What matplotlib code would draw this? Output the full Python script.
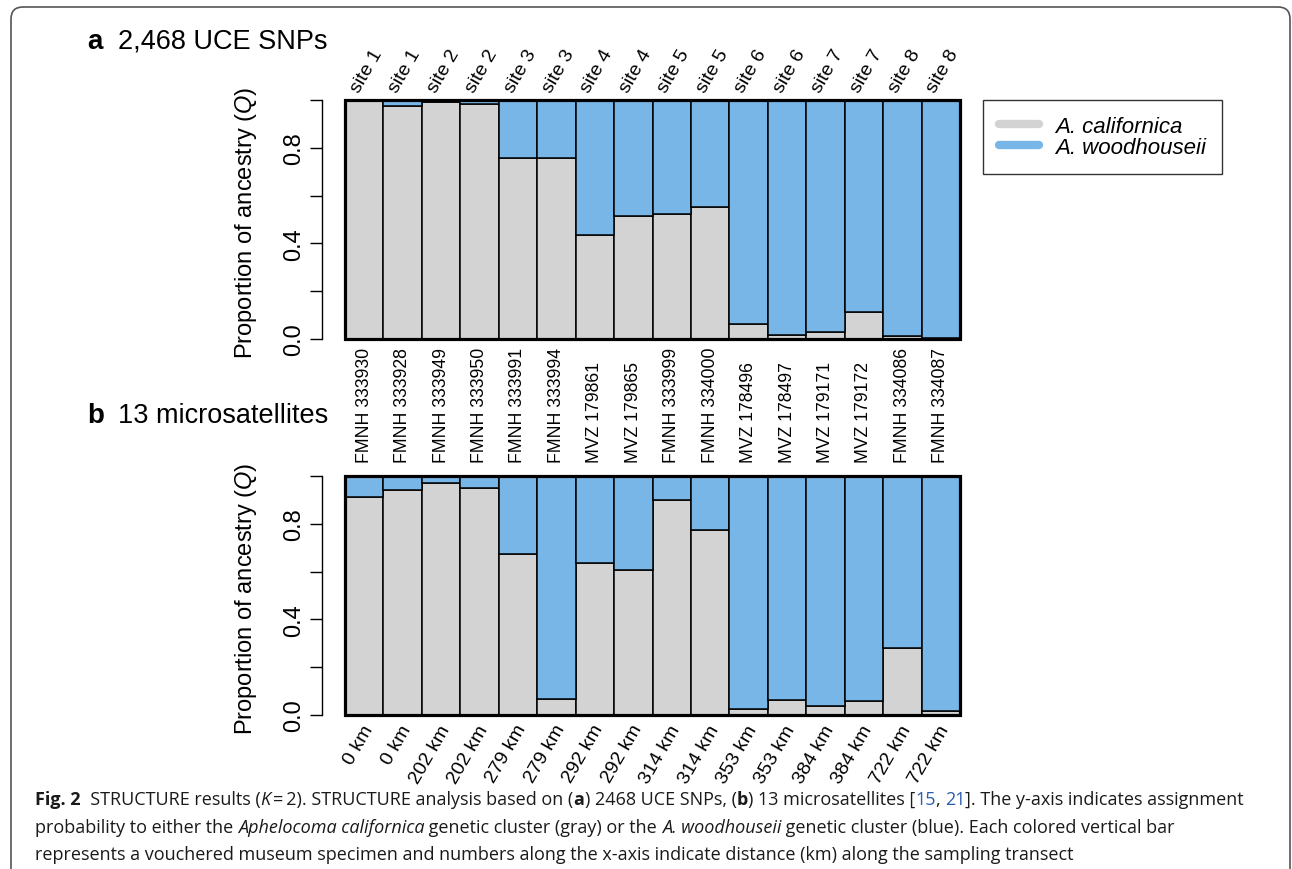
import numpy as np
import matplotlib
matplotlib.use("Agg")
import matplotlib.pyplot as plt
from matplotlib.patches import Rectangle, FancyBboxPatch
from matplotlib.lines import Line2D
from matplotlib.transforms import IdentityTransform

# ================= DATA =================

sites = ["site 1", "site 1", "site 2", "site 2", "site 3", "site 3", "site 4", "site 4",
         "site 5", "site 5", "site 6", "site 6", "site 7", "site 7", "site 8", "site 8"]

specimens = ["FMNH 333930", "FMNH 333928", "FMNH 333949", "FMNH 333950",
             "FMNH 333991", "FMNH 333994", "MVZ 179861", "MVZ 179865",
             "FMNH 333999", "FMNH 334000", "MVZ 178496", "MVZ 178497",
             "MVZ 179171", "MVZ 179172", "FMNH 334086", "FMNH 334087"]

distances = ["0 km", "0 km", "202 km", "202 km", "279 km", "279 km", "292 km", "292 km",
             "314 km", "314 km", "353 km", "353 km", "384 km", "384 km", "722 km", "722 km"]

# Q for A. californica (gray); A. woodhouseii (blue) is the remainder
q_cal_snp = [0.995, 0.973, 0.990, 0.985, 0.758, 0.757, 0.434, 0.514,
             0.521, 0.553, 0.061, 0.018, 0.028, 0.114, 0.011, 0.004]
q_cal_msat = [0.911, 0.941, 0.969, 0.948, 0.672, 0.066, 0.634, 0.606,
              0.899, 0.775, 0.027, 0.061, 0.037, 0.059, 0.280, 0.015]

yticks = [0.0, 0.2, 0.4, 0.6, 0.8, 1.0]
yticklabels = ["0.0", "", "0.4", "", "0.8", ""]

GRAY = "#D3D3D3"
BLUE = "#78B6E8"

plt.rcParams["font.family"] = ["Liberation Sans", "DejaVu Sans"]
plt.rcParams["mathtext.fontset"] = "custom"
plt.rcParams["mathtext.it"] = "Liberation Sans:italic"
plt.rcParams["mathtext.rm"] = "Liberation Sans"

W, H = 1292, 870
fig = plt.figure(figsize=(W / 100, H / 100), dpi=100)


def fx(px):
    return px / W


def fy(py):
    return 1 - py / H


def make_panel(top_px, q_cal):
    left, right, bottom = 345, 960, top_px + 239
    ax = fig.add_axes([fx(left), fy(bottom), fx(right - left), (bottom - top_px) / H])
    x = np.arange(len(q_cal)) + 0.5
    q_cal = np.array(q_cal)
    ax.bar(x, q_cal, width=1, color=GRAY, edgecolor="black", linewidth=1.1)
    ax.bar(x, 1 - q_cal, bottom=q_cal, width=1, color=BLUE, edgecolor="black", linewidth=1.1)
    ax.set_xlim(0, len(q_cal))
    ax.set_ylim(0, 1)
    ax.set_xticks([])
    for s in ["top", "right", "bottom"]:
        ax.spines[s].set_visible(False)
    ax.spines["left"].set_position(("outward", 16.5))
    ax.spines["left"].set_bounds(0, 1)
    ax.spines["left"].set_linewidth(1)
    ax.set_yticks(yticks)
    ax.set_yticklabels(yticklabels, rotation=90, va="center", fontsize=17)
    ax.tick_params(axis="y", length=8.5, width=1, pad=4)
    ax.add_patch(Rectangle((0, 0), 1, 1, transform=ax.transAxes, fill=False,
                           edgecolor="black", linewidth=2.3, clip_on=False, zorder=5))
    fig.text(fx(246), fy(top_px + 122), "Proportion of ancestry ($\\it{Q}$)",
             rotation=90, ha="center", va="center", fontsize=17)
    return ax


# ================= PANEL A =================

ax1 = make_panel(101, q_cal_snp)
for i, s in enumerate(sites):
    ax1.text(i + 0.45, 1.02, s, rotation=60, rotation_mode="anchor",
             ha="left", va="bottom", fontsize=14, clip_on=False)
for i, s in enumerate(specimens):
    ax1.text(i + 0.5, -0.515, s, rotation=90, ha="center", va="bottom",
             fontsize=12.7, clip_on=False)

fig.text(fx(87), fy(42), "a", fontsize=20, fontweight="bold", va="center", ha="left")
fig.text(fx(118), fy(42), "2,468 UCE SNPs", fontsize=19.5, va="center", ha="left")

# ================= PANEL B =================

ax2 = make_panel(477, q_cal_msat)
for i, s in enumerate(distances):
    ax2.text(i + 0.62, -0.045, s, rotation=60, rotation_mode="anchor",
             ha="right", va="center", fontsize=14, clip_on=False)

fig.text(fx(87), fy(416), "b", fontsize=20, fontweight="bold", va="center", ha="left")
fig.text(fx(118), fy(416), "13 microsatellites", fontsize=19.5, va="center", ha="left")

# ================= LEGEND =================

handles = [Line2D([], [], color=GRAY, lw=6, solid_capstyle="round"),
           Line2D([], [], color=BLUE, lw=6, solid_capstyle="round")]
leg = fig.legend(handles, ["A. californica", "A. woodhouseii"], loc="upper left",
                 bbox_to_anchor=(fx(983), fy(101)), borderaxespad=0, frameon=True,
                 fancybox=False, edgecolor="black", prop={"size": 16, "style": "italic"},
                 handlelength=1.8, handletextpad=0.75, labelspacing=0.02,
                 borderpad=0.7)
leg.get_frame().set_linewidth(1)

# ================= BORDER =================

border = FancyBboxPatch((11, -60), 1279, H - 8 + 60, boxstyle="round,pad=0,rounding_size=12",
                        transform=IdentityTransform(), fill=False, edgecolor="#555555",
                        linewidth=1.2)
fig.patches.append(border)

# ================= CAPTION =================

cap_font = ["Open Sans", "DejaVu Sans"]
NB = "#1a1a1a"
caption = [
    [("Fig. 2", "bold", "normal", NB), ("  STRUCTURE results (", "normal", "normal", NB),
     ("K", "normal", "italic", NB), ("\u2009=\u20092). STRUCTURE analysis based on (", "normal", "normal", NB),
     ("a", "bold", "normal", NB), (") 2468 UCE SNPs, (", "normal", "normal", NB),
     ("b", "bold", "normal", NB), (") 13 microsatellites [", "normal", "normal", NB),
     ("15", "normal", "normal", "#2a5db0"), (", ", "normal", "normal", NB),
     ("21", "normal", "normal", "#2a5db0"),
     ("]. The y-axis indicates assignment", "normal", "normal", NB)],
    [("probability to either the ", "normal", "normal", NB),
     ("Aphelocoma californica", "normal", "italic", NB),
     (" genetic cluster (gray) or the ", "normal", "normal", NB),
     ("A. woodhouseii", "normal", "italic", NB),
     (" genetic cluster (blue). Each colored vertical bar", "normal", "normal", NB)],
    [("represents a vouchered museum specimen and numbers along the x-axis indicate "
      "distance (km) along the sampling transect", "normal", "normal", NB)],
]
cap_y = [800, 828, 855]

renderer = fig.canvas.get_renderer()


def draw_line(segs, x0, y, size, draw=True):
    x = x0
    arts = []
    for txt, wt, st, col in segs:
        t = fig.text(fx(x), fy(y), txt, fontsize=size, fontweight=wt, fontstyle=st,
                     color=col, family=cap_font, ha="left", va="center")
        bb = t.get_window_extent(renderer)
        x += bb.width
        arts.append(t)
    if not draw:
        for t in arts:
            t.remove()
    return x - x0


w = draw_line(caption[0], 35, cap_y[0], 10, draw=False)
cap_size = 10 * 1215 / w
for segs, yy in zip(caption, cap_y):
    draw_line(segs, 35, yy, cap_size)

fig.savefig("out.png", dpi=100)
